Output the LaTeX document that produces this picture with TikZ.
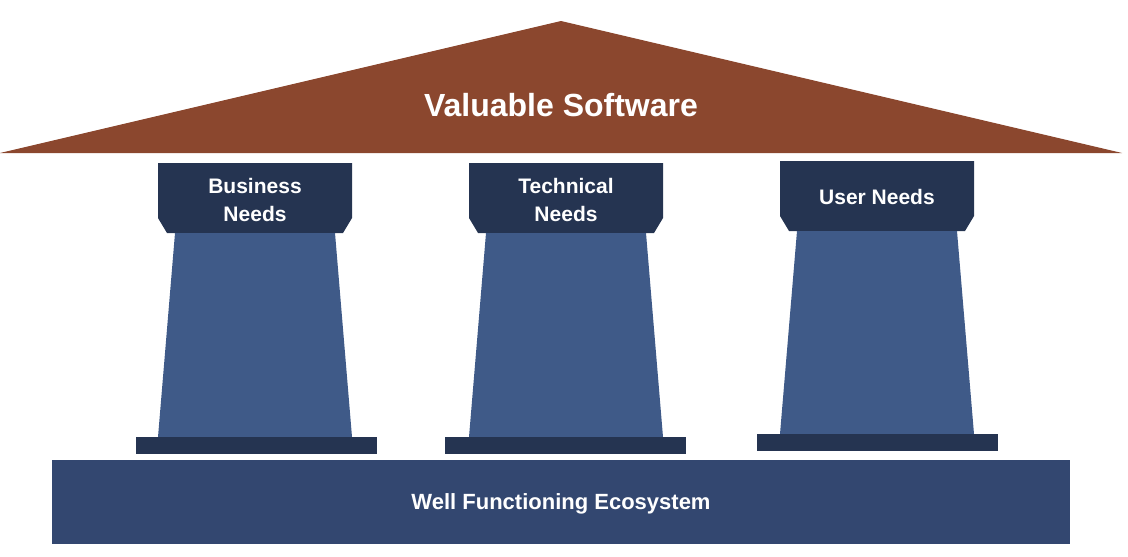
\documentclass[tikz,border=0pt]{standalone}
\usepackage{fontspec}
\setmainfont{Liberation Sans}
\definecolor{roofc}{HTML}{8B472E}
\definecolor{capc}{HTML}{253451}
\definecolor{shaftc}{HTML}{3F5A88}
\definecolor{basec}{HTML}{334770}
\tikzset{
  lbl/.style={text=white, font=\bfseries\fontsize{21}{28}\selectfont, align=center, inner sep=0pt},
}
\newcommand{\pillar}[5]{%
  % #1 = left x, #2 = capital top y, #3 = shaft bottom y, #4 = plinth left x
  \fill[capc] (#1,#2) -- ++(194,0) -- ++(0,55) -- ++(-9,15) -- ++(-176,0) -- ++(-9,-15) -- cycle;
  \fill[shaftc] (#1+17,#2+70) -- (#1+177,#2+70) -- (#1+194,#3) -- (#1,#3) -- cycle;
  \fill[capc] (#4,#3) rectangle (#4+241,#3+17);
}
\begin{document}
\begin{tikzpicture}[x=1pt,y=-1pt]
\useasboundingbox (0,0) rectangle (1128,557);
% roof
\fill[roofc] (561,21) -- (1122,153) -- (0,153) -- cycle;
\node[lbl, font=\bfseries\fontsize{32}{37}\selectfont, anchor=base] (roof) at (561,116) {Valuable Software};
% pillars
\pillar{158}{163}{437}{136}{p1}
\pillar{469}{163}{437}{445}{p2}
\pillar{780}{161}{434}{757}{p3}
\node[lbl, anchor=base] (b1) at (255,193) {Business};
\node[lbl, anchor=base] (b2) at (255,221) {Needs};
\node[lbl, anchor=base] (t1) at (566,193) {Technical};
\node[lbl, anchor=base] (t2) at (566,221) {Needs};
\node[lbl, anchor=base] (u1) at (877,204) {User Needs};
% base
\fill[basec] (52,460) rectangle (1070,544);
\node[lbl, font=\bfseries\fontsize{22}{28}\selectfont, anchor=base] (eco) at (561,509) {Well Functioning Ecosystem};
\end{tikzpicture}
\end{document}
